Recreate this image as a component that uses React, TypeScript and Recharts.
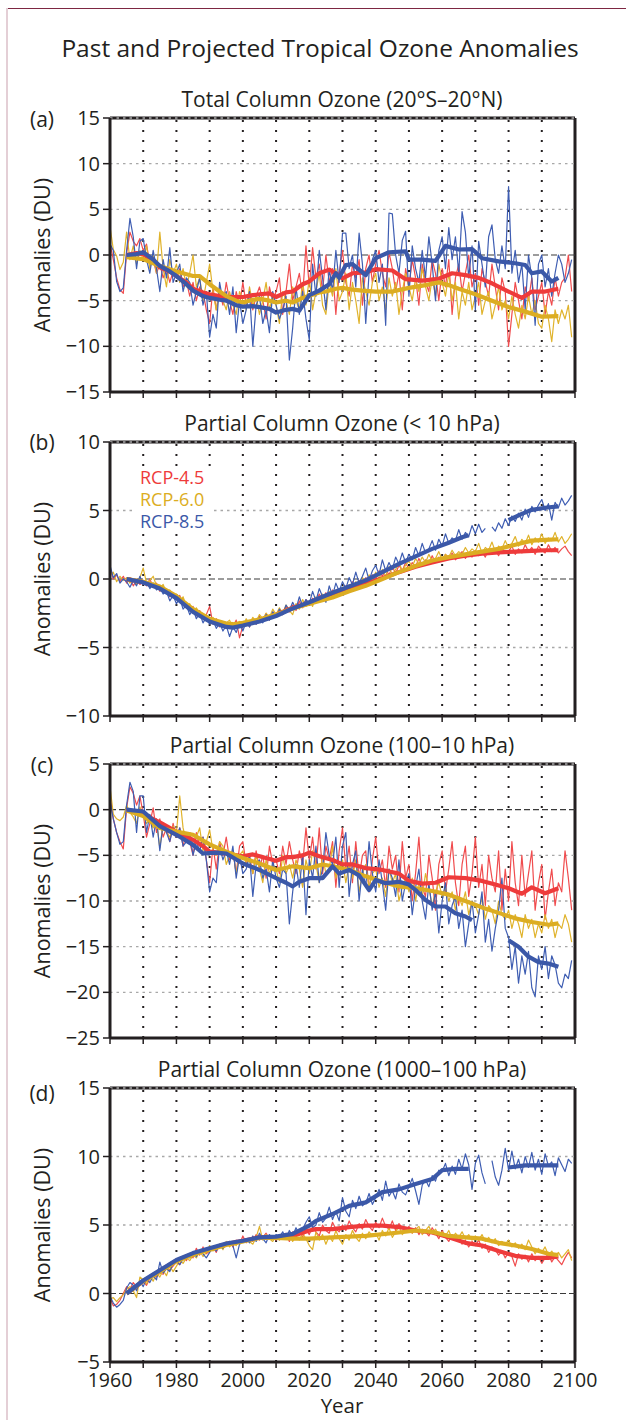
import React from 'react';
import { LineChart, Line, XAxis, YAxis, ReferenceLine } from 'recharts';

const FONT = "'Open Sans', 'Noto Sans', sans-serif";
const INK = '#231f20';
const RED = '#ee3b3b';
const GOLD = '#dcad22';
const BLUE = '#3b58a8';
const RED_T = '#f04c4e';
const GOLD_T = '#e0b32c';
const BLUE_T = '#3e5db2';

const YEARS: number[] = Array.from({ length: 140 }, (_, i) => 1960 + i);
const XTICKS = [1960, 1970, 1980, 1990, 2000, 2010, 2020, 2030, 2040, 2050, 2060, 2070, 2080, 2090, 2100];
const VGRID = [1970, 1980, 1990, 2000, 2010, 2020, 2030, 2040, 2050, 2060, 2070, 2080, 2090];

const TICKS_A = [-15, -10, -5, 0, 5, 10, 15];
const TICKS_B = [-10, -5, 0, 5, 10];
const TICKS_C = [-25, -20, -15, -10, -5, 0, 5];
const TICKS_D = [-5, 0, 5, 10, 15];

const LEGEND = ['RCP-4.5', 'RCP-6.0', 'RCP-8.5'];

// ---------- Panel (a) Total column ----------
const redA = [
  1.3, -0.5, -2.5, -3.8, -4.2, 0.2, 2.5, 1.5, 1.0, 1.8,
  0.5, 1.2, -1.0, -0.5, -2.0, -1.0, -2.5, -1.5, -3.0, -1.8,
  -2.5, -1.5, -3.5, -2.8, -4.5, -3.0, -5.0, -3.5, -4.0, -6.0,
  -7.5, -3.5, -6.0, -4.0, -5.5, -3.0, -5.0, -6.5, -4.0, -5.5,
  -3.0, -5.5, -4.0, -6.0, -4.5, -3.5, -5.0, -7.0, -3.5, -5.0,
  -4.0, -2.5, -6.5, -4.0, -1.0, -5.0, -3.5, -2.0, -4.5, 1.0,
  -3.5, 0.8, -2.5, -1.0, -4.0, 0.0, -3.0, -1.5, -6.5, -2.0,
  0.5, -3.0, -4.5, -1.0, -2.5, -0.5, -5.5, -1.5, 0.0, -3.0,
  -1.0, 0.5, -2.0, -3.5, 0.3, -1.5, -4.0, -2.0, -6.0, -1.5,
  -3.5, -0.5, -2.5, -5.5, -1.0, -3.0, -4.0, -0.5, -2.0, -5.0,
  -1.5, -3.5, -0.5, -6.5, -2.5, -1.0, -4.0, -2.0, 0.0, -3.5,
  -2.0, -5.5, -1.5, -3.0, -4.5, -1.0, -3.5, -6.0, -2.5, -4.0,
  -10.0, -6.5, -3.0, -5.0, -7.0, -3.5, -5.0, -2.5, -6.0, -4.5,
  -3.0, -6.5, -4.0, -5.5, -2.5, -4.5, -3.0, -2.5, 0.0, -4.0,
];
const goldA = [
  3.1, 0.6, -0.1, -1.6, -0.8, 2.5, -0.5, 1.0, -1.0, 0.5,
  -0.5, 1.0, -1.5, 0.0, -2.0, 2.5, -1.5, -3.5, -0.5, -2.0,
  -1.0, -3.0, -1.5, -3.5, -2.0, 0.0, -3.5, -2.5, -5.0, -3.0,
  -1.0, -4.0, -6.0, -3.5, -5.0, -6.0, -4.0, -5.5, -6.5, -4.0,
  -5.0, -6.0, -3.5, -5.5, -4.5, -6.5, -5.0, -3.0, -6.0, -4.5,
  -5.5, -7.5, -4.0, -5.0, -6.5, -3.5, -5.0, -6.0, -3.0, -5.5,
  -2.5, -6.0, -4.0, -2.0, -5.5, -6.5, -3.0, -4.5, -1.5, -5.0,
  -4.0, -2.0, -6.0, -3.0, -5.0, -7.5, -2.5, -4.0, -5.5, -3.0,
  -2.0, -5.0, -3.5, -6.0, -2.5, -4.5, -3.0, -6.5, -4.0, -2.0,
  -3.5, -5.0, -2.5, -4.0, -1.5, -3.5, -5.0, -2.5, -4.5, -1.0,
  -3.0, -4.5, -2.0, -5.0, -3.0, -7.0, -4.0, -5.5, -3.0, -6.0,
  -4.5, -3.0, -6.5, -5.0, -4.0, -7.0, -5.5, -3.5, -6.0, -5.0,
  -7.0, -4.5, -6.5, -8.0, -5.5, -7.0, -4.5, -6.5, -5.0, -7.5,
  -8.0, -5.5, -7.0, -9.5, -6.0, -7.5, -6.0, -7.0, -5.5, -9.0,
];
const blueA = [
  1.2, 0.5, -2.9, -4.0, -3.6, 0.5, 4.0, 2.0, -1.5, 1.5,
  1.8, -0.5, -2.0, 0.5, -1.5, -4.0, -0.5, -2.5, 0.8, -3.0,
  -2.0, -1.0, -4.0, -2.5, -3.0, -5.5, -4.0, -2.5, -5.5, -4.0,
  -9.0, -6.5, -8.0, -3.0, -5.0, -4.0, -6.5, -3.5, -8.5, -5.0,
  -7.5, -6.0, -4.0, -10.0, -5.5, -4.5, -7.5, -6.0, -8.5, -4.0,
  -5.5, -7.0, -6.0, -4.5, -11.5, -8.0, -3.5, -6.5, -4.0, -7.0,
  -9.3, -1.0, -4.5, 0.5, -2.5, -6.0, -1.5, -4.0, 0.5, -3.0,
  2.4, 2.4, -1.5, 0.0, -3.5, 2.4, -1.0, -7.5, -2.0, -0.5,
  0.5, -3.0, -1.0, -7.7, 4.6, 4.5, 0.0, -2.0, 1.6, 2.6,
  -4.5, 1.0, -1.5, -3.0, 0.5, -2.5, 2.0, -1.0, -5.0, 0.5,
  2.0, -1.5, 3.0, -0.5, 2.0, -2.0, 4.75, 2.5, -2.5, 1.0,
  -6.0, 1.5, -1.0, -3.5, 2.0, 3.3, -0.5, -2.0, 1.0, -1.5,
  7.5, -2.0, 0.5, -3.0, -1.0, -6.0, 0.0, -2.5, -7.7, -1.0,
  0.0, -3.5, -1.5, -4.5, -2.0, 0.0, -1.0, -3.0, -2.0, -0.5,
];
const redSmoothA: [number, number | null][] = [
  [1965, 0], [1968, 0.2], [1970, 0.1], [1973, -0.7], [1975, -1.35], [1978, -1.8], [1980, -2.3], [1983, -3.0],
  [1985, -3.7], [1988, -4.1], [1990, -4.3], [1993, -4.5], [1995, -4.6], [1998, -4.6], [2000, -4.6], [2003, -4.4],
  [2005, -4.3], [2008, -4.2], [2010, -4.6], [2013, -4.1], [2015, -4.0], [2018, -3.2], [2020, -2.9], [2023, -2.0],
  [2026, -1.6], [2028, -2.0], [2030, -2.55], [2033, -2.0], [2037, -1.9], [2040, -1.55], [2045, -1.7], [2049, -2.65],
  [2054, -2.8], [2059, -2.6], [2063, -2.0], [2067, -2.2], [2071, -2.5], [2075, -3.1], [2080, -4.0], [2084, -4.7],
  [2087, -4.0], [2091, -4.0], [2095, -3.7],
];
const goldSmoothA: [number, number | null][] = [
  [1965, -0.25], [1970, -0.45], [1975, -1.2], [1980, -1.8], [1985, -2.3], [1987, -2.3], [1990, -3.2], [1993, -4.0],
  [1995, -4.5], [1998, -5.0], [2000, -5.2], [2003, -4.9], [2005, -4.8], [2008, -5.0], [2010, -5.2], [2013, -5.0],
  [2015, -5.2], [2018, -4.7], [2020, -4.45], [2023, -4.1], [2025, -4.0], [2028, -3.7], [2030, -3.6], [2033, -3.8],
  [2036, -3.9], [2040, -4.0], [2045, -4.0], [2050, -3.6], [2055, -3.3], [2059, -3.0], [2062, -3.3], [2065, -3.7],
  [2070, -4.3], [2075, -5.0], [2080, -5.7], [2085, -6.2], [2090, -6.75], [2095, -6.7],
];
const blueSmoothA: [number, number | null][] = [
  [1965, 0], [1968, 0.1], [1970, 0.3], [1973, -0.5], [1975, -1.2], [1978, -1.8], [1980, -2.3], [1983, -3.2],
  [1985, -3.9], [1988, -4.5], [1990, -4.7], [1993, -4.9], [1995, -5.0], [1998, -5.5], [2000, -5.65], [2003, -5.6],
  [2005, -5.7], [2008, -5.9], [2010, -6.3], [2013, -6.0], [2015, -5.9], [2017, -6.1], [2020, -4.4], [2023, -3.9],
  [2026, -3.2], [2028, -2.0], [2029, -2.5], [2031, -1.1], [2033, -1.0], [2035, -1.6], [2037, -2.2], [2040, -0.35],
  [2044, 0.3], [2049, 0.4], [2050, -0.5], [2054, -0.5], [2058, -0.65], [2061, 1.0], [2065, 0.6], [2069, 0.65],
  [2072, -0.35], [2077, -0.7], [2082, -0.9], [2085, -1.1], [2087, -2.0], [2090, -1.8], [2093, -2.9], [2095, -2.5],
];

// ---------- Panel (b) < 10 hPa ----------
const redB = [
  0.8, 0.0, 0.3, -0.2, 0.2, -0.3, 0.1, -0.5, -0.1, -0.4,
  -0.2, -0.5, 0.0, -0.6, -0.3, -0.9, -0.6, -0.8, -1.3, -1.1,
  -1.5, -1.2, -1.9, -1.7, -2.2, -2.0, -2.7, -2.3, -2.9, -2.6,
  -2.0, -3.3, -2.9, -3.5, -3.1, -3.6, -3.3, -3.5, -3.0, -4.3,
  -3.4, -3.0, -3.5, -2.9, -3.3, -2.7, -3.1, -2.5, -3.0, -2.4,
  -2.8, -2.3, -2.6, -2.0, -2.4, -1.9, -2.3, -1.6, -2.1, -1.5,
  -1.9, -1.4, -1.7, -1.1, -1.5, -1.0, -1.4, -0.8, -1.2, -0.7,
  -0.9, -0.5, -0.8, -0.2, -0.6, -0.1, -0.5, 0.1, -0.3, 0.3,
  0.0, 0.6, 0.2, 0.7, 0.3, 0.9, 0.4, 1.0, 0.6, 1.2,
  0.7, 1.2, 0.9, 1.5, 1.0, 1.4, 1.1, 1.7, 1.2, 1.6,
  1.3, 1.8, 1.5, 1.9, 1.4, 1.7, 2.0, 1.5, 1.9, 1.6,
  2.1, 1.7, 2.0, 1.6, 2.2, 1.8, 2.1, 1.7, 2.3, 1.9,
  2.0, 2.4, 1.8, 2.2, 1.9, 2.5, 2.0, 2.3, 1.8, 2.4,
  2.1, 1.9, 2.5, 2.0, 2.3, 1.9, 2.2, 2.4, 2.0, 1.7,
];
const goldB = [
  0.3, 0.5, -0.2, 0.2, -0.1, 0.1, -0.3, 0.0, -0.4, 0.1,
  0.8, -0.3, -0.1, 0.2, -0.5, -0.7, -0.4, -1.0, -0.8, -1.2,
  -1.1, -1.6, -1.3, -2.0, -1.8, -2.4, -2.1, -2.5, -2.9, -2.6,
  -3.0, -2.8, -3.3, -3.1, -3.5, -3.2, -3.0, -3.6, -3.3, -3.1,
  -3.5, -2.9, -3.3, -2.8, -3.1, -2.6, -2.9, -2.5, -2.8, -2.2,
  -2.6, -2.1, -2.5, -1.9, -2.3, -2.6, -1.8, -2.2, -1.5, -2.0,
  -1.6, -2.0, -1.3, -1.7, -1.1, -1.5, -0.9, -1.4, -0.8, -1.1,
  -0.6, -1.0, -0.4, -0.8, -0.2, -0.6, 0.1, -0.4, 0.3, -0.1,
  0.5, 0.0, 0.7, 0.2, 0.9, 0.3, 0.7, 1.2, 0.6, 1.0,
  1.3, 0.9, 1.5, 1.1, 1.6, 1.2, 1.8, 1.3, 1.5, 2.0,
  1.4, 1.8, 1.6, 2.1, 1.7, 2.0, 1.8, 2.3, 1.9, 2.2,
  2.0, 2.6, 1.9, 2.3, 2.1, 2.7, 2.0, 2.4, 2.2, 2.8,
  2.3, 2.6, 3.1, 2.4, 2.9, 2.6, 3.2, 2.5, 3.0, 2.7,
  3.3, 2.6, 3.0, 2.8, 3.4, 2.7, 3.1, 2.6, 2.9, 3.3,
];
const blueB: (number | null)[] = [
  1.0, 0.1, 0.4, -0.3, 0.0, -0.2, -0.6, -0.1, -0.5, 0.2,
  -0.4, -0.2, -0.7, -0.3, -0.8, -0.6, -1.1, -0.9, -1.6, -1.2,
  -1.8, -1.4, -2.2, -1.9, -2.6, -2.2, -2.9, -2.5, -3.2, -2.8,
  -3.3, -3.0, -3.6, -3.2, -3.8, -3.4, -4.2, -3.5, -3.9, -3.2,
  -3.8, -3.1, -3.5, -3.0, -3.3, -2.8, -3.2, -2.6, -3.0, -2.4,
  -2.8, -2.2, -2.6, -1.9, -2.3, -1.7, -2.2, -1.3, -2.0, -1.5,
  -1.8, -0.9, -1.6, -0.7, -1.3, -1.7, -0.5, -1.2, -0.3, -0.9,
  -0.2, -0.7, 0.1, -0.4, 0.5, -0.3, 0.2, 0.8, -0.1, 0.6,
  1.0, 0.3, 1.4, 0.6, 1.2, 0.7, 1.6, 1.1, 1.9, 1.2,
  1.8, 1.4, 2.3, 1.7, 2.6, 1.9, 2.2, 2.8, 2.1, 2.9,
  2.4, 3.3, 2.6, 3.0, 2.8, 3.6, 2.9, 3.4, 3.1, 3.9,
  3.3, 4.0, 3.4, 3.7, null, 3.8, 3.5, 4.1, 3.7, 4.4,
  3.9, 4.6, 4.2, 4.8, 4.3, 5.1, 4.5, 5.3, 4.9, 5.4,
  5.8, 5.0, 5.5, 4.3, 5.6, 5.2, 5.9, 5.4, 5.7, 6.1,
];
const redSmoothB: [number, number | null][] = [
  [1965, 0], [1970, -0.23], [1975, -0.6], [1980, -1.3], [1985, -2.3], [1990, -3.0], [1995, -3.4], [1997, -3.45],
  [2000, -3.3], [2005, -3.0], [2010, -2.6], [2015, -2.1], [2020, -1.75], [2027, -1.22], [2032, -0.8], [2037, -0.37],
  [2042, 0.05], [2047, 0.5], [2052, 0.9], [2057, 1.2], [2062, 1.5], [2067, 1.7], [2072, 1.85], [2077, 1.95],
  [2082, 2.0], [2087, 2.05], [2091, 2.1], [2095, 2.1],
];
const goldSmoothB: [number, number | null][] = [
  [1965, 0], [1970, -0.2], [1975, -0.55], [1980, -1.25], [1985, -2.2], [1990, -2.9], [1995, -3.25], [1997, -3.3],
  [2000, -3.2], [2005, -2.95], [2010, -2.6], [2015, -2.15], [2020, -1.8], [2027, -1.35], [2032, -0.9], [2037, -0.5],
  [2042, 0.0], [2047, 0.5], [2052, 0.95], [2057, 1.35], [2062, 1.6], [2067, 1.8], [2072, 2.0], [2077, 2.2],
  [2082, 2.5], [2087, 2.8], [2091, 2.85], [2095, 2.9],
];
const blueSmoothB: [number, number | null][] = [
  [1965, 0], [1970, -0.25], [1975, -0.7], [1980, -1.4], [1985, -2.4], [1990, -3.1], [1995, -3.5], [1997, -3.55],
  [2000, -3.4], [2005, -3.1], [2010, -2.7], [2015, -2.15], [2020, -1.7], [2027, -1.0], [2032, -0.55], [2037, -0.1],
  [2042, 0.5], [2047, 1.1], [2052, 1.65], [2057, 2.2], [2062, 2.65], [2066, 3.05], [2068, 3.2], [2069, null],
  [2080, 4.3], [2084, 4.75], [2087, 5.05], [2091, 5.2], [2095, 5.3],
];

// ---------- Panel (c) 100-10 hPa ----------
const redC = [
  1.5, -1.0, -2.5, -3.5, -4.3, 0.2, 2.5, 1.8, 0.5, 1.5,
  -0.5, -3.0, -1.5, 0.2, -2.5, -1.0, -3.0, -2.0, -3.5, -1.5,
  -3.0, -2.0, -4.0, -2.5, -3.5, -5.0, -2.5, -4.0, -3.0, -5.5,
  -8.0, -4.0, -6.5, -3.5, -5.0, -3.0, -5.5, -4.5, -7.0, -4.0,
  -3.5, -6.0, -5.0, -7.0, -4.5, -6.5, -5.0, -7.5, -4.0, -6.0,
  -5.5, -7.0, -4.0, -6.0, -3.5, -5.5, -7.0, -4.5, -6.0, -2.0,
  -5.5, -3.0, -6.5, -2.0, -7.0, -4.0, -5.5, -3.5, -8.5, -4.5,
  -2.0, -6.5, -4.0, -8.0, -3.5, -7.5, -5.0, -4.5, -9.0, -5.5,
  -3.0, -7.0, -5.5, -8.5, -4.0, -6.5, -5.0, -9.0, -3.5, -7.5,
  -6.0, -10.0, -7.0, -3.0, -8.5, -9.5, -5.0, -7.5, -11.0, -6.0,
  -4.5, -9.0, -6.5, -3.5, -8.0, -10.5, -6.0, -4.0, -9.5, -7.0,
  -3.0, -8.5, -6.0, -10.5, -5.0, -7.5, -9.0, -4.5, -11.0, -6.5,
  -10.0, -3.5, -8.0, -10.5, -5.0, -9.5, -7.0, -4.5, -11.0, -8.0,
  -6.0, -12.0, -9.0, -6.5, -10.5, -8.0, -9.0, -4.5, -7.5, -11.0,
];
const goldC = [
  2.5, -0.5, -1.0, -1.2, -0.8, 0.5, -0.3, -0.8, -1.5, 0.3,
  -0.8, -1.5, -1.0, -2.0, -1.2, -4.2, -1.5, -2.5, -3.0, -1.8,
  -2.5, 1.5, -2.0, -3.5, -2.5, -4.0, -3.0, -2.0, -4.5, -3.5,
  -2.2, -4.5, -5.0, -3.5, -4.0, -6.0, -5.0, -4.5, -7.0, -5.0,
  -4.5, -6.0, -5.5, -7.0, -5.0, -6.5, -8.0, -5.5, -7.0, -6.0,
  -6.5, -8.0, -5.0, -7.0, -6.0, -7.5, -5.5, -6.5, -8.5, -5.5,
  -7.0, -4.5, -6.0, -8.0, -5.0, -7.0, -6.5, -4.0, -7.5, -6.0,
  -5.5, -8.0, -6.0, -7.5, -5.5, -9.0, -7.0, -6.0, -8.5, -7.0,
  -6.5, -8.5, -7.5, -9.5, -6.5, -8.0, -7.0, -10.0, -8.5, -7.5,
  -9.0, -7.5, -10.0, -8.0, -9.5, -7.0, -8.5, -10.5, -9.0, -8.0,
  -9.5, -8.5, -10.0, -9.0, -11.0, -9.5, -10.5, -9.0, -11.5, -10.0,
  -10.5, -11.5, -9.5, -12.0, -10.5, -11.0, -12.5, -10.0, -11.5, -12.0,
  -11.0, -13.0, -11.5, -12.5, -14.0, -11.5, -13.0, -12.0, -14.0, -12.5,
  -13.5, -11.5, -13.0, -12.0, -14.0, -12.5, -13.0, -11.5, -12.5, -14.5,
];
const blueC = [
  1.0, -1.0, -2.5, -3.8, -3.5, 0.5, 3.0, 2.0, -2.5, 1.5,
  1.5, -2.5, -0.5, -3.0, -1.0, -4.5, -1.5, -2.5, -3.5, -2.0,
  -3.0, -2.0, -4.0, -3.5, -2.5, -5.0, -3.5, -4.5, -3.0, -5.5,
  -9.0, -7.5, -8.0, -4.0, -5.5, -4.5, -6.0, -4.0, -7.5, -5.0,
  -7.0, -6.5, -5.0, -9.5, -6.0, -5.5, -7.5, -6.5, -9.0, -5.5,
  -7.5, -8.5, -6.5, -7.0, -12.5, -9.0, -6.0, -8.5, -5.0, -11.5,
  -5.5, -7.5, -4.0, -8.0, -6.5, -2.5, -5.0, -6.0, -3.0, -8.5,
  -4.0, -2.5, -9.5, -6.0, -4.5, -10.0, -6.5, -8.5, -3.5, -7.0,
  -9.0, -5.5, -8.0, -11.0, -6.5, -7.5, -9.5, -5.5, -10.0, -8.0,
  -7.0, -11.5, -8.5, -6.5, -10.0, -12.0, -8.0, -11.0, -9.0, -13.5,
  -10.0, -8.0, -12.5, -10.5, -9.5, -13.0, -11.0, -15.0, -12.5, -10.0,
  -13.5, -11.5, -9.0, -14.5, -12.0, -15.5, -13.0, -11.0, -7.5, -13.0,
  -14.0, -17.5, -15.0, -19.0, -16.0, -18.0, -15.5, -19.5, -20.5, -16.0,
  -17.5, -15.0, -18.5, -16.0, -17.0, -19.0, -19.5, -18.0, -18.5, -16.5,
];
const redSmoothC: [number, number | null][] = [
  [1965, 0], [1970, -0.5], [1975, -1.4], [1980, -2.4], [1985, -3.3], [1988, -4.0], [1990, -4.6], [1995, -4.8],
  [2000, -5.1], [2003, -4.9], [2005, -5.1], [2010, -5.6], [2013, -5.2], [2015, -5.2], [2018, -5.0], [2020, -4.7],
  [2023, -5.1], [2027, -5.5], [2030, -6.0], [2033, -6.0], [2037, -6.4], [2042, -6.6], [2047, -7.0], [2050, -7.8],
  [2054, -8.1], [2058, -8.0], [2062, -7.4], [2067, -7.5], [2072, -7.8], [2076, -8.2], [2080, -8.6], [2084, -9.2],
  [2087, -8.5], [2091, -9.15], [2095, -8.6],
];
const goldSmoothC: [number, number | null][] = [
  [1965, -0.1], [1970, -0.7], [1975, -2.0], [1980, -2.4], [1985, -2.75], [1990, -3.8], [1995, -4.6], [2000, -5.3],
  [2005, -5.9], [2010, -6.6], [2015, -6.2], [2020, -6.4], [2024, -6.0], [2027, -6.2], [2032, -6.6], [2037, -7.3],
  [2042, -7.9], [2047, -8.4], [2052, -8.6], [2057, -8.9], [2062, -9.3], [2067, -10.0], [2072, -10.7], [2077, -11.3],
  [2082, -11.9], [2087, -12.3], [2092, -12.6], [2095, -12.45],
];
const blueSmoothC: [number, number | null][] = [
  [1965, 0], [1970, -0.2], [1975, -1.8], [1980, -2.75], [1985, -3.85], [1988, -4.8], [1992, -4.7], [1995, -4.8],
  [2000, -5.9], [2005, -6.6], [2010, -7.5], [2013, -8.0], [2015, -8.4], [2017, -7.9], [2020, -7.5], [2024, -7.5],
  [2027, -6.2], [2029, -7.0], [2032, -6.6], [2035, -7.2], [2038, -8.8], [2040, -7.7], [2043, -8.05], [2047, -7.9],
  [2050, -8.2], [2052, -8.8], [2055, -9.9], [2058, -10.6], [2061, -10.6], [2064, -11.35], [2067, -11.7], [2069, -12.1],
  [2070, null], [2080, -14.3], [2083, -15.0], [2086, -16.1], [2089, -16.7], [2092, -16.85], [2095, -17.2],
];

// ---------- Panel (d) 1000-100 hPa ----------
const redD = [
  -0.3, -0.9, -0.8, -0.5, 0.0, 0.5, 0.3, 0.8, 0.5, 0.6,
  0.9, 0.6, 1.1, 1.3, 1.2, 1.5, 1.4, 1.9, 1.7, 2.0,
  2.3, 2.1, 2.7, 2.4, 2.9, 2.6, 3.3, 2.8, 3.4, 2.9,
  3.1, 3.4, 3.0, 3.6, 3.3, 3.5, 3.8, 3.4, 3.9, 3.6,
  4.2, 3.7, 4.0, 3.8, 4.3, 3.9, 4.1, 4.4, 4.0, 4.2,
  3.9, 4.3, 4.0, 4.4, 3.8, 4.5, 4.2, 4.6, 4.1, 4.7,
  4.3, 4.9, 4.5, 4.2, 5.0, 4.6, 4.4, 5.2, 4.7, 4.5,
  5.0, 4.6, 5.3, 4.8, 4.5, 5.1, 4.7, 5.4, 4.9, 4.6,
  5.2, 4.8, 5.5, 4.9, 4.7, 5.3, 4.6, 5.1, 4.8, 4.5,
  4.9, 4.4, 4.8, 4.3, 4.7, 4.5, 4.2, 4.8, 4.4, 4.0,
  4.6, 4.1, 3.8, 4.3, 3.9, 4.2, 3.6, 3.9, 3.4, 3.8,
  3.5, 3.9, 3.3, 3.6, 3.0, 3.4, 3.2, 2.8, 3.1, 2.6,
  3.0, 2.7, 2.0, 2.9, 2.5, 2.8, 2.3, 2.9, 2.4, 2.7,
  2.2, 2.6, 2.9, 2.3, 2.7, 2.4, 2.1, 2.6, 3.0, 2.6,
];
const goldD = [
  -0.4, -0.3, -0.6, -0.3, -0.1, 0.3, 0.5, 0.2, -0.3, 1.2,
  1.0, 0.7, 1.3, 0.9, 1.5, 1.2, 1.7, 1.3, 2.0, 1.6,
  2.0, 2.4, 2.2, 2.6, 2.4, 2.8, 2.6, 3.1, 2.7, 3.0,
  3.5, 3.1, 3.3, 3.6, 3.2, 3.8, 3.4, 3.7, 3.5, 3.9,
  3.7, 4.0, 3.8, 3.6, 4.1, 4.9, 3.9, 4.3, 4.0, 3.8,
  4.2, 3.9, 4.3, 4.0, 4.4, 3.8, 4.2, 3.9, 4.4, 4.0,
  3.5, 3.2, 4.5, 3.9, 4.3, 3.6, 4.2, 3.8, 4.6, 4.0,
  3.6, 4.3, 3.9, 4.6, 4.1, 3.8, 4.4, 4.0, 4.5, 4.2,
  4.4, 3.9, 4.6, 4.2, 4.8, 4.1, 4.5, 4.9, 4.3, 4.6,
  4.8, 4.4, 4.7, 4.9, 4.3, 4.6, 4.9, 4.4, 4.7, 4.2,
  4.5, 4.2, 4.6, 4.0, 4.4, 4.1, 4.5, 4.0, 4.3, 3.9,
  4.2, 3.9, 4.3, 3.8, 4.1, 3.7, 4.0, 3.5, 3.8, 3.6,
  3.9, 3.4, 3.7, 3.3, 3.6, 3.2, 3.9, 3.4, 2.9, 3.3,
  3.0, 3.4, 2.8, 3.1, 2.7, 3.0, 2.6, 2.9, 3.2, 2.4,
];
const blueD: (number | null)[] = [
  -0.2, -0.7, -1.0, -0.8, -0.5, 0.4, 0.8, 0.6, 0.2, 0.9,
  0.5, 1.1, 0.8, 1.3, 1.0, 2.3, 1.5, 1.8, 1.6, 2.2,
  2.4, 2.1, 2.5, 2.8, 2.6, 3.0, 2.7, 3.2, 2.9, 2.6,
  3.0, 3.3, 3.1, 3.5, 3.3, 3.7, 3.8, 3.5, 2.6, 3.6,
  3.8, 4.0, 3.7, 4.2, 3.8, 4.4, 4.0, 3.7, 4.3, 4.0,
  4.3, 4.1, 4.5, 4.0, 4.6, 4.2, 4.8, 4.3, 4.7, 5.2,
  5.6, 4.8, 5.0, 5.9, 5.2, 5.5, 6.3, 5.4, 6.0, 5.3,
  7.0, 6.0, 5.6, 6.8, 6.2, 7.1, 6.4, 6.6, 7.3, 6.5,
  7.0, 7.6, 6.8, 8.2, 7.1, 7.5, 6.9, 8.0, 7.4, 7.2,
  7.8, 8.4, 7.5, 6.5, 7.9, 8.3, 7.8, 8.6, 8.2, 9.0,
  8.9, 9.5, 8.6, 9.3, 8.7, 9.8, 9.1, 10.2, 9.4, 7.6,
  9.5, 10.1, 8.8, 8.0, null, 9.7, 8.5, 7.9, 9.0, 10.6,
  9.0, 10.4, 9.1, 9.8, 8.8, 10.0, 9.2, 10.3, 9.0, 9.8,
  8.7, 10.2, 9.3, 9.6, 8.6, 9.9, 9.4, 8.9, 9.8, 9.5,
];
const redSmoothD: [number, number | null][] = [
  [1965, 0], [1970, 0.9], [1975, 1.65], [1980, 2.4], [1985, 2.9], [1990, 3.25], [1995, 3.6], [2000, 3.85],
  [2005, 4.1], [2010, 4.1], [2015, 4.2], [2020, 4.6], [2022, 4.7], [2027, 4.7], [2032, 4.85], [2037, 4.95],
  [2042, 4.95], [2047, 4.85], [2052, 4.6], [2057, 4.45], [2062, 4.1], [2067, 3.7], [2072, 3.5], [2077, 3.1],
  [2082, 2.75], [2087, 2.6], [2092, 2.6], [2095, 2.7],
];
const goldSmoothD: [number, number | null][] = [
  [1965, 0], [1970, 0.9], [1975, 1.6], [1980, 2.35], [1985, 2.85], [1990, 3.2], [1995, 3.55], [2000, 3.8],
  [2005, 4.05], [2010, 4.05], [2015, 4.0], [2020, 4.0], [2027, 4.1], [2037, 4.2], [2047, 4.45], [2052, 4.6],
  [2057, 4.5], [2062, 4.2], [2067, 4.1], [2072, 4.0], [2077, 3.7], [2082, 3.5], [2087, 3.25], [2092, 2.9], [2095, 2.8],
];
const blueSmoothD: [number, number | null][] = [
  [1965, 0], [1970, 0.95], [1975, 1.7], [1980, 2.45], [1985, 2.95], [1990, 3.3], [1995, 3.65], [2000, 3.85],
  [2005, 4.1], [2010, 4.15], [2015, 4.35], [2020, 4.95], [2022, 5.3], [2027, 5.8], [2032, 6.4], [2037, 6.65],
  [2042, 7.4], [2047, 7.6], [2052, 8.0], [2057, 8.35], [2060, 9.0], [2064, 9.1], [2068, 9.1], [2069, null],
  [2080, 9.2], [2085, 9.35], [2090, 9.35], [2095, 9.35],
];

const PLOT_H = 274;
const TOP_PAD = 16;

function fmtY(v: number) {
  return v < 0 ? '\u2212' + Math.abs(v) : String(v);
}

type PanelProps = {
  top: number;
  domain: [number, number];
  ticks: number[];
  red: (number | null)[];
  gold: (number | null)[];
  blue: (number | null)[];
  redS: [number, number | null][];
  goldS: [number, number | null][];
  blueS: [number, number | null][];
  years?: boolean;
};

function Panel(p: PanelProps) {
  const data = YEARS.map((year, i) => ({ year, red: p.red[i], gold: p.gold[i], blue: p.blue[i] }));
  const pts = (a: [number, number | null][]) => a.map(([x, y]) => ({ year: x, v: y }));
  const [lo, hi] = p.domain;
  const common = { dot: false, activeDot: false, isAnimationActive: false, connectNulls: false, type: 'linear' as const, strokeLinejoin: 'round' as const };
  return (
    <div style={{ position: 'absolute', left: 0, top: p.top - TOP_PAD }}>
      <LineChart width={626} height={PLOT_H + TOP_PAD + 32} data={data} margin={{ top: TOP_PAD, right: 51, left: 70, bottom: 0 }}>
        <XAxis
          type="number"
          dataKey="year"
          domain={[1960, 2100]}
          ticks={XTICKS}
          interval={0}
          allowDataOverflow
          tickFormatter={(v: number) => (p.years && (v - 1960) % 20 === 0 ? String(v) : '')}
          height={32}
          tickSize={6}
          tickMargin={5}
          axisLine={{ stroke: INK, strokeWidth: 3 }}
          tickLine={{ stroke: INK, strokeWidth: 1.5 }}
          tick={{ fill: INK, fontSize: 19.5, fontFamily: FONT }}
        />
        <YAxis
          type="number"
          domain={p.domain}
          ticks={p.ticks}
          interval={0}
          allowDataOverflow
          width={40}
          tickFormatter={fmtY}
          tickSize={7}
          tickMargin={3}
          axisLine={{ stroke: INK, strokeWidth: 3 }}
          tickLine={{ stroke: INK, strokeWidth: 1.5 }}
          tick={{ fill: INK, fontSize: 20, fontFamily: FONT }}
        />
        <ReferenceLine y={hi} stroke={INK} strokeWidth={3} />
        <ReferenceLine x={2100} stroke={INK} strokeWidth={3} />
        {VGRID.map((x) => (
          <ReferenceLine key={'v' + x} x={x} stroke={INK} strokeWidth={2} strokeDasharray="2 8" />
        ))}
        {p.ticks.filter((t) => t !== 0 && t !== lo).map((t) => (
          <ReferenceLine key={'h' + t} y={t} stroke="#a8a8a8" strokeWidth={1.3} strokeDasharray="2.5 4" />
        ))}
        <ReferenceLine y={0} stroke="#3a3a3a" strokeWidth={1.2} strokeDasharray="6 3" />
        <Line dataKey="red" stroke={RED_T} strokeWidth={1.2} {...common} />
        <Line dataKey="gold" stroke={GOLD_T} strokeWidth={1.2} {...common} />
        <Line dataKey="blue" stroke={BLUE_T} strokeWidth={1.2} {...common} />
        <Line data={pts(p.redS)} dataKey="v" stroke={RED} strokeWidth={4.2} {...common} />
        <Line data={pts(p.goldS)} dataKey="v" stroke={GOLD} strokeWidth={4.2} {...common} />
        <Line data={pts(p.blueS)} dataKey="v" stroke={BLUE} strokeWidth={4.2} {...common} />
      </LineChart>
    </div>
  );
}

const PANELS = [
  { top: 118, title: 'Total Column Ozone (20°S–20°N)', label: '(a)', labelY: 127 },
  { top: 442, title: 'Partial Column Ozone (< 10 hPa)', label: '(b)', labelY: 450 },
  { top: 764, title: 'Partial Column Ozone (100–10 hPa)', label: '(c)', labelY: 773 },
  { top: 1088, title: 'Partial Column Ozone (1000–100 hPa)', label: '(d)', labelY: 1101 },
];

export default function App() {
  return (
    <div style={{ position: 'absolute', left: 0, top: 0, width: 626, height: 1420, background: '#fff', overflow: 'hidden' }}>
      <div style={{ position: 'absolute', left: 6, top: 8, width: 620, height: 1, background: '#7d2742' }} />
      <div style={{ position: 'absolute', left: 6, top: 8, width: 1.5, height: 1412, background: '#e4cfd6' }} />
      <Panel top={118} domain={[-15, 15]} ticks={TICKS_A} red={redA} gold={goldA} blue={blueA} redS={redSmoothA} goldS={goldSmoothA} blueS={blueSmoothA} />
      <Panel top={442} domain={[-10, 10]} ticks={TICKS_B} red={redB} gold={goldB} blue={blueB} redS={redSmoothB} goldS={goldSmoothB} blueS={blueSmoothB} />
      <Panel top={764} domain={[-25, 5]} ticks={TICKS_C} red={redC} gold={goldC} blue={blueC} redS={redSmoothC} goldS={goldSmoothC} blueS={blueSmoothC} />
      <Panel top={1088} domain={[-5, 15]} ticks={TICKS_D} red={redD} gold={goldD} blue={blueD} redS={redSmoothD} goldS={goldSmoothD} blueS={blueSmoothD} years />
      <svg width={626} height={1420} style={{ position: 'absolute', left: 0, top: 0, pointerEvents: 'none' }} fontFamily={FONT} fill={INK}>
        <text x={320} y={57} fontSize={24.5} textAnchor="middle">Past and Projected Tropical Ozone Anomalies</text>
        {PANELS.map((pn) => (
          <g key={pn.label}>
            <text x={342} y={pn.top - 11} fontSize={21} textAnchor="middle">{pn.title}</text>
            <text x={42} y={pn.labelY} fontSize={21} textAnchor="middle">{pn.label}</text>
            <text x={50} y={pn.top + PLOT_H / 2} fontSize={21.5} textAnchor="middle" transform={`rotate(-90 50 ${pn.top + PLOT_H / 2})`}>Anomalies (DU)</text>
          </g>
        ))}
        <text x={342} y={1413} fontSize={20.5} textAnchor="middle">Year</text>
        <rect x={136} y={466} width={76} height={66} fill="#fff" />
        <text x={140} y={484} fontSize={18} fill={RED}>{LEGEND[0]}</text>
        <text x={140} y={506} fontSize={18} fill={GOLD}>{LEGEND[1]}</text>
        <text x={140} y={528} fontSize={18} fill={BLUE}>{LEGEND[2]}</text>
      </svg>
    </div>
  );
}
